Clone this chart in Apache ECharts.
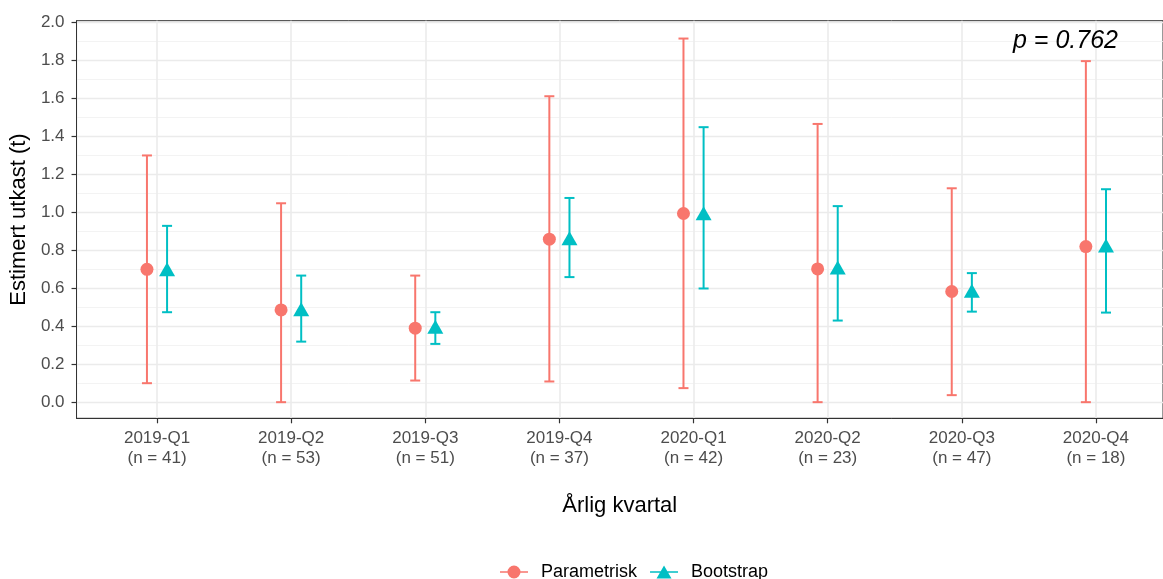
<!DOCTYPE html>
<html>
<head>
<meta charset="utf-8">
<script src="https://cdn.jsdelivr.net/npm/echarts@6/dist/echarts.min.js"></script>
<style>html,body{margin:0;padding:0;background:#fff}#c{width:1163px;height:579px}</style>
</head>
<body>
<div id="c"></div>
<script>
const categories = ['2019-Q1','2019-Q2','2019-Q3','2019-Q4','2020-Q1','2020-Q2','2020-Q3','2020-Q4'];
const nCounts = [41, 53, 51, 37, 42, 23, 47, 18];
const paramEst  = [0.700, 0.486, 0.390, 0.859, 0.994, 0.702, 0.583, 0.820];
const paramLow  = [0.100, 0.000, 0.114, 0.109, 0.074, 0.000, 0.037, 0.000];
const paramHigh = [1.300, 1.048, 0.667, 1.612, 1.916, 1.466, 1.127, 1.797];
const bootEst   = [0.700, 0.490, 0.397, 0.864, 0.996, 0.709, 0.587, 0.826];
const bootLow   = [0.474, 0.319, 0.307, 0.659, 0.599, 0.430, 0.477, 0.472];
const bootHigh  = [0.929, 0.667, 0.474, 1.076, 1.449, 1.033, 0.680, 1.122];
const yTicks = [0, 0.2, 0.4, 0.6, 0.8, 1.0, 1.2, 1.4, 1.6, 1.8, 2.0];
const yMinor = [0.1, 0.3, 0.5, 0.7, 0.9, 1.1, 1.3, 1.5, 1.7, 1.9];
const pText = 'p = 0.762';

const DODGE = 0.075;
const RED = '#F8766D', TEAL = '#00BFC4';
const FONT = '"Liberation Sans", Arial, sans-serif';
const xIdx = categories.map((c, i) => i);

function errData(low, high, off) {
  return low.map((l, i) => [i + off, l, high[i]]);
}
function errRender(color) {
  return function (params, api) {
    const x = api.value(0);
    const lo = api.coord([x, api.value(1)]);
    const hi = api.coord([x, api.value(2)]);
    const hw = 5;
    const st = { stroke: color, lineWidth: 2 };
    return {
      type: 'group',
      children: [
        { type: 'line', shape: { x1: lo[0], y1: lo[1], x2: hi[0], y2: hi[1] }, style: st },
        { type: 'line', shape: { x1: lo[0] - hw, y1: lo[1], x2: lo[0] + hw, y2: lo[1] }, style: st },
        { type: 'line', shape: { x1: hi[0] - hw, y1: hi[1], x2: hi[0] + hw, y2: hi[1] }, style: st }
      ]
    };
  };
}

const gridLines = [];
yMinor.forEach(v => gridLines.push({ yAxis: v, lineStyle: { color: '#F0F0F0', width: 0.8, type: 'solid' } }));
yTicks.forEach(v => gridLines.push({ yAxis: v, lineStyle: { color: '#EBEBEB', width: 1.3, type: 'solid' } }));
xIdx.forEach(v => gridLines.push({ xAxis: v, lineStyle: { color: '#EBEBEB', width: 1.6, type: 'solid' } }));

const circleIcon = 'path://M0,6.2H28V7.8H0Z M7.5,7A6.5,6.5 0 1,1 20.5,7A6.5,6.5 0 1,1 7.5,7Z';
const triIcon = 'path://M0,6.2H28V7.8H0Z M14,0.5L21.5,13.5L6.5,13.5Z';

const chart = echarts.init(document.getElementById('c'), null, { renderer: 'canvas' });
chart.setOption({
  animation: false,
  backgroundColor: '#fff',
  textStyle: { fontFamily: FONT },
  grid: { left: 75.5, right: 0, top: 20.7, bottom: 160.7, show: true, borderColor: '#333333', borderWidth: 1, backgroundColor: 'transparent' },
  xAxis: {
    type: 'value', min: -0.6, max: 7.5,
    axisLine: { show: true, onZero: false, lineStyle: { color: '#333333', width: 1 } },
    axisTick: { show: true, customValues: xIdx, length: 5, lineStyle: { color: '#333333', width: 1.2 } },
    axisLabel: {
      customValues: xIdx, margin: 10, color: '#4D4D4D', fontSize: 17, lineHeight: 20, fontFamily: FONT,
      formatter: v => { const i = Math.round(v); return categories[i] + '\n(n = ' + nCounts[i] + ')'; }
    },
    splitLine: { show: false },
    name: 'Årlig kvartal', nameLocation: 'middle', nameGap: 77,
    nameTextStyle: { color: '#000', fontSize: 22, fontFamily: FONT }
  },
  yAxis: {
    type: 'value', min: -0.085, max: 2.01,
    axisLine: { show: true, onZero: false, lineStyle: { color: '#333333', width: 1 } },
    axisTick: { show: true, customValues: yTicks, length: 5, lineStyle: { color: '#333333', width: 1.2 } },
    axisLabel: { customValues: yTicks, margin: 12, color: '#4D4D4D', fontSize: 17, fontFamily: FONT, formatter: v => v.toFixed(1) },
    splitLine: { show: false },
    name: 'Estimert utkast (t)', nameLocation: 'middle', nameGap: 38,
    nameTextStyle: { color: '#000', fontSize: 22, fontFamily: FONT }
  },
  legend: {
    data: [{ name: 'Parametrisk', icon: circleIcon }, { name: 'Bootstrap', icon: triIcon }],
    left: 495, top: 558, itemWidth: 28, itemHeight: 14, itemGap: 13,
    textStyle: { color: '#000', fontSize: 18, fontFamily: FONT, padding: [0, 0, 0, 8] }
  },
  graphic: [{
    type: 'text', left: 1013, top: 29, z: 10,
    style: { text: pText, font: 'italic 25px "Liberation Sans", Arial, sans-serif', fill: '#000' }
  }],
  series: [
    {
      type: 'custom', name: 'grid', z: 0, silent: true,
      data: [[0, 0]],
      renderItem: () => ({ type: 'group', children: [] }),
      markLine: { silent: true, z: 0, symbol: 'none', label: { show: false }, animation: false, data: gridLines }
    },
    {
      type: 'custom', name: 'errP', z: 3, silent: true,
      data: errData(paramLow, paramHigh, -DODGE),
      renderItem: errRender(RED), encode: { x: 0, y: [1, 2] }
    },
    {
      type: 'custom', name: 'errB', z: 3, silent: true,
      data: errData(bootLow, bootHigh, DODGE),
      renderItem: errRender(TEAL), encode: { x: 0, y: [1, 2] }
    },
    {
      type: 'scatter', name: 'Parametrisk', z: 4,
      symbol: 'circle', symbolSize: 13,
      itemStyle: { color: RED, opacity: 1 },
      data: paramEst.map((v, i) => [i - DODGE, v])
    },
    {
      type: 'scatter', name: 'Bootstrap', z: 4,
      symbol: 'triangle', symbolSize: [16, 14],
      itemStyle: { color: TEAL, opacity: 1 },
      data: bootEst.map((v, i) => [i + DODGE, v])
    }
  ]
});
</script>
</body>
</html>
